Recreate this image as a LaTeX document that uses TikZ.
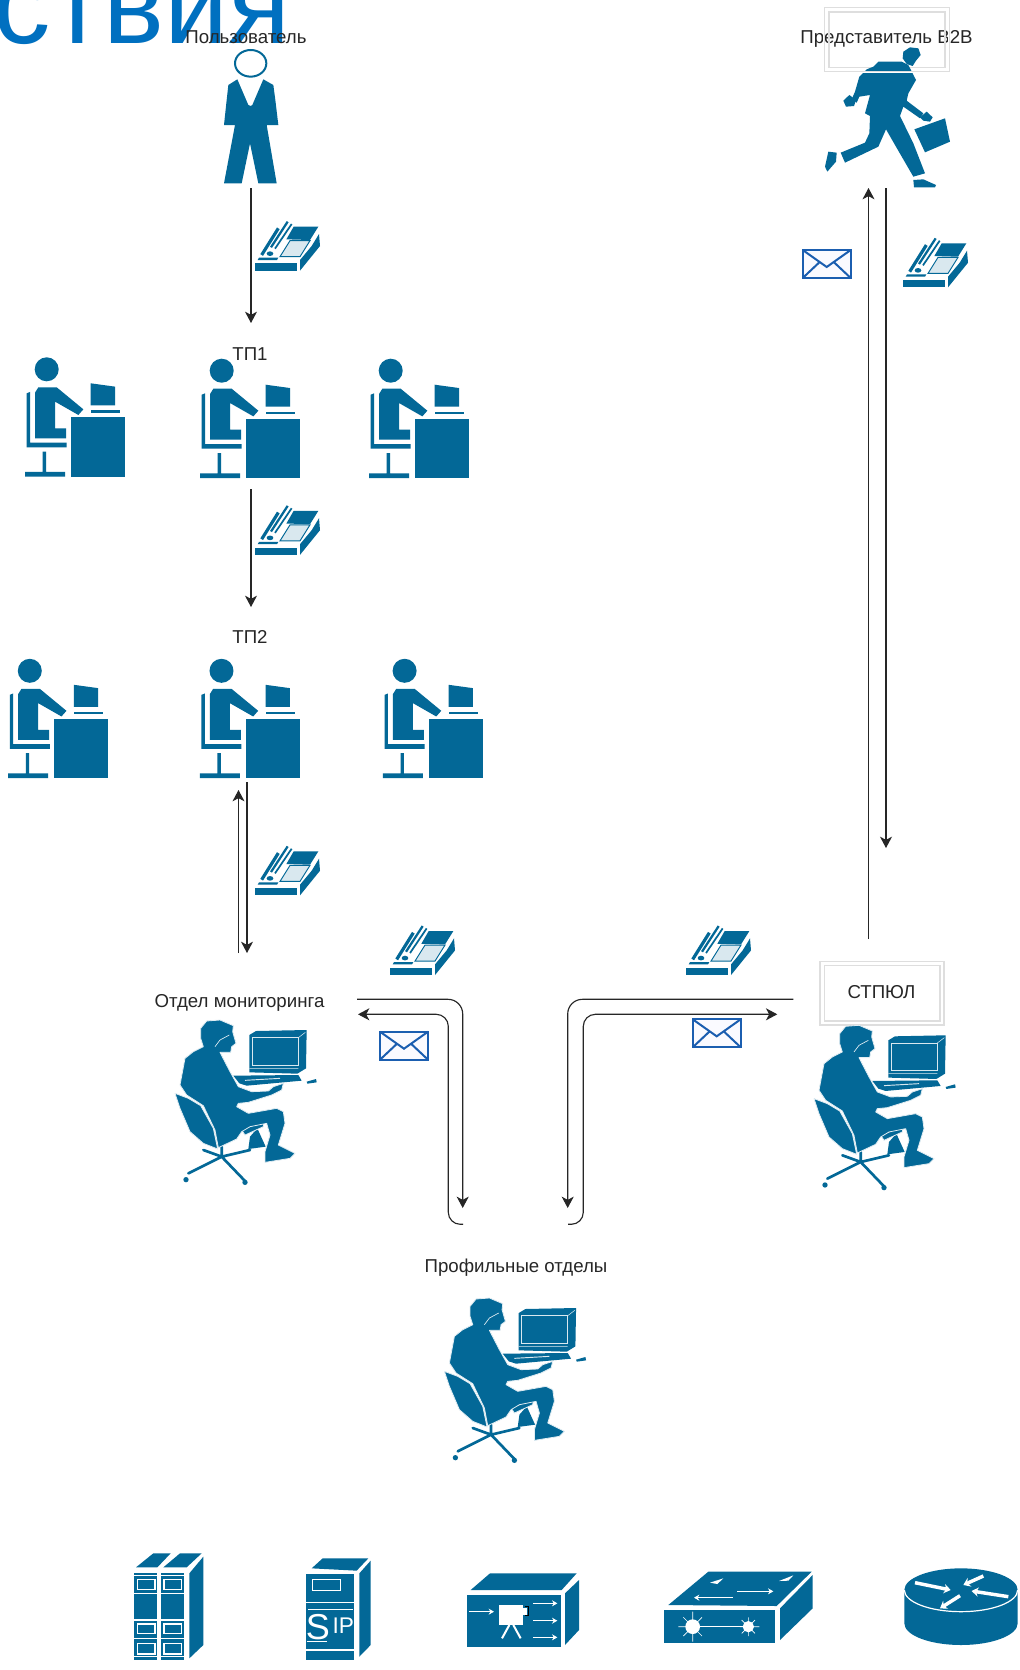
\documentclass[tikz,border=0pt]{standalone}
\usepackage{fontspec}
\setmainfont{Liberation Sans}
\usetikzlibrary{arrows.meta}
\definecolor{iconblue}{HTML}{036897}
\definecolor{titleblue}{HTML}{0070C0}
\definecolor{envblue}{HTML}{1B5EB0}
\definecolor{boxgray}{HTML}{DEDEDE}
\definecolor{labelgray}{HTML}{262626}
\tikzset{
  ico/.style={fill=iconblue,draw=white!88!iconblue,line width=.6pt,line join=round},
  wl/.style={draw=white,line width=.9pt},
  wa/.style={draw=white,line width=.9pt,-{Stealth[length=4pt,width=4.5pt]}},
  conn/.style={draw=black!85,line width=.85pt,-{Stealth[length=8.5pt,width=9pt,inset=2.4pt]}},
  lbl/.style={font=\fontsize{14pt}{16pt}\selectfont,text=labelgray,inner sep=0pt},
  boxo/.style={draw=white,line width=1.6pt},
  boxi/.style={draw=boxgray,line width=.8pt},
}
\newcommand{\workericon}[2]{%
\begin{scope}[shift={(#1-46.67,#2-369.33)},x=.25pt,y=-.25pt]
  \fill[iconblue] (140,1108) circle (36);
  \fill[iconblue] (105,1178) -- (115,1162) -- (170,1162) -- (250,1228) -- (235,1245) -- (165,1205) -- (165,1285) -- (198,1285) -- (198,1315) -- (105,1315) -- cycle;
  \fill[iconblue] (80,1180) -- (90,1176) -- (90,1328) -- (200,1328) -- (200,1342) -- (80,1342) -- cycle;
  \fill[iconblue] (128,1355) -- (138,1355) -- (138,1416) -- (195,1416) -- (195,1430) -- (75,1430) -- (75,1416) -- (128,1416) -- cycle;
  \fill[iconblue] (213,1252) rectangle (375,1430);
  \fill[iconblue] (272,1150) -- (345,1160) -- (345,1216) -- (272,1216) -- cycle;
  \fill[iconblue] (272,1231) rectangle (360,1238);
\end{scope}}
\newcommand{\phoneicon}[2]{%
\begin{scope}[shift={(#1-10,#2-8.3)},x=.25pt,y=-.25pt]
  \fill[iconblue] (30,160) -- (155,160) -- (155,182) -- (30,182) -- cycle;
  \fill[iconblue] (165,182) -- (225,108) -- (222,72) -- (200,108) -- (165,150) -- cycle;
  \fill[iconblue] (146,50) -- (220,50) -- (195,90) -- (124,88) -- cycle;
  \draw[iconblue,fill=iconblue!15,line width=.7pt] (105,140) -- (135,92) -- (195,92) -- (165,140) -- cycle;
  \draw[iconblue,line width=2.4pt] (50,135) -- (100,55);
  \draw[iconblue,line width=1.7pt] (78,112) -- (128,35);
  \draw[iconblue,line width=1.3pt] (90,116) -- (140,42);
  \fill[iconblue] (75,131) ellipse (10 and 7);
  \fill[iconblue] (42,143) -- (100,143) -- (96,150) -- (38,150) -- cycle;
\end{scope}}
\newcommand{\envicon}[2]{%
\begin{scope}[shift={(#1,#2)}]
  \draw[envblue,fill=blue!2,line width=1.7pt] (0,0) rectangle (48,28);
  \draw[envblue,line width=1.5pt] (0,0) -- (24,17) -- (48,0) (0,28) -- (17,12) (48,28) -- (31,12);
\end{scope}}
\newcommand{\seatedicon}[2]{%
\begin{scope}[shift={(#1+30,#2+35)},x=.25pt,y=-.25pt]
  % chair base
  \draw[iconblue,line width=2pt,line cap=round] (155,395) -- (155,425) (155,425) -- (55,475) (155,425) -- (225,498) (155,425) -- (100,405) (155,425) -- (240,405);
  \fill[iconblue] (48,494) circle (8) (225,502) circle (8);
  % far leg and seat
  \fill[iconblue] (262,340) -- (287,395) -- (235,402) -- (240,365) -- cycle;
  \path[ico] (215,345) -- (282,318) -- (280,335) -- (225,360) -- cycle;
  % chair back
  \path[ico] (15,235) -- (55,250) -- (92,272) -- (130,340) -- (143,402) -- (100,385) -- (60,350) -- (30,280) -- cycle;
  % body
  \path[ico] (92,40) -- (110,18) -- (150,15) -- (190,32) -- (188,50) -- (198,85) -- (185,95) -- (182,112) -- (150,112) -- (180,170) -- (205,215) -- (245,230) -- (295,228) -- (310,215) -- (340,205) -- (335,225) -- (305,240) -- (235,262) -- (205,265) -- (200,275) -- (235,295) -- (320,280) -- (340,290) -- (345,325) -- (325,390) -- (375,415) -- (360,430) -- (285,442) -- (285,410) -- (300,360) -- (290,325) -- (240,335) -- (215,350) -- (200,372) -- (145,398) -- (135,345) -- (100,272) -- (50,240) -- (30,210) -- (45,130) -- (70,110) -- (100,95) -- (92,70) -- cycle;
  \draw[white!88!iconblue,line width=.5pt] (135,95) -- (150,75) -- (178,60);
  % monitor
  \fill[iconblue] (238,60) -- (258,48) -- (410,45) -- (408,160) -- (382,176) -- (238,172) -- cycle;
  \draw[white!85!iconblue,line width=.7pt] (246,68) rectangle (385,150);
  \draw[white!85!iconblue,line width=.4pt] (385,68) -- (406,52) (238,160) -- (385,160);
  % keyboard
  \fill[iconblue] (190,182) -- (385,180) -- (395,197) -- (340,202) -- (230,212) -- (208,205) -- cycle;
  \draw[white!85!iconblue,line width=.7pt] (225,196) -- (330,190);
  \fill[iconblue] (410,200) -- (438,192) -- (440,202) -- (412,206) -- cycle;
\end{scope}}
\begin{document}
\begin{tikzpicture}[x=0.75pt,y=-0.75pt]
\useasboundingbox (0,0) rectangle (1020,1670);
\clip (0,0) rectangle (1020,1670);
\fill[white] (0,0) rectangle (1020,1670);

% title fragment
\node[anchor=base east,inner sep=0pt,text=titleblue,font=\fontsize{86pt}{90pt}\selectfont] (title) at (291,44) {ствия};

% labels
\node[lbl] (luser) at (246,37) {Пользователь};
\node[lbl] (ltp1) at (250,354) {ТП1};
\node[lbl] (ltp2) at (250,637) {ТП2};
\node[lbl] (lmon) at (239.5,1002.5) {Отдел мониторинга};
\node[lbl] (lb2b) at (886.5,38.5) {Представитель B2B};
\node[lbl] (lprof) at (516,1267.5) {Профильные отделы};
\node[lbl] (lstp) at (881.5,992.5) {СТПЮЛ};

% inner box under the runner
\draw[boxo] (829,12) rectangle (945,67.3);
\draw[boxi] (829,12) rectangle (945,67.3);

% standing user
\begin{scope}[x=.25pt,y=-.25pt]
  \draw[iconblue,fill=white,line width=1.5pt] (752,190) ellipse (47 and 40);
  \fill[iconblue] (712,238) -- (745,315) -- (752,318) -- (757,315) -- (790,238) -- (820,255) -- (826,300) -- (835,375) -- (800,375) -- (830,550) -- (775,550) -- (750,430) -- (725,550) -- (672,550) -- (705,375) -- (672,375) -- (680,300) -- (685,255) -- cycle;
\end{scope}

% runner
\begin{scope}[shift={(810,30)},x=.25pt,y=-.25pt]
  \fill[iconblue] (280,65) -- (300,52) -- (325,55) -- (332,75) -- (318,92) -- (308,108) -- (290,102) -- (278,85) -- cycle;
  \fill[iconblue] (190,110) -- (205,95) -- (275,95) -- (295,105) -- (318,150) -- (295,190) -- (290,212) -- (340,250) -- (330,265) -- (280,230) -- (270,258) -- (310,340) -- (345,430) -- (310,440) -- (255,345) -- (228,298) -- (205,350) -- (105,398) -- (92,368) -- (165,338) -- (178,310) -- (180,258) -- (165,250) -- (180,195) -- (148,200) -- (140,218) -- (125,208) -- (135,185) -- (148,140) -- (170,118) -- cycle;
  \fill[iconblue] (100,212) -- (118,195) -- (138,210) -- (132,228) -- (108,230) -- cycle;
  \fill[iconblue] (330,262) -- (350,245) -- (368,262) -- (360,275) -- (340,272) -- cycle;
  \fill[iconblue] (313,298) -- (405,265) -- (420,335) -- (345,367) -- cycle;
  \fill[iconblue] (55,365) -- (80,368) -- (78,395) -- (52,425) -- (45,410) -- cycle;
  \fill[iconblue] (310,450) -- (340,448) -- (378,465) -- (375,472) -- (312,472) -- cycle;
\end{scope}

% outer box over the runner
\draw[boxo] (824.3,7.3) rectangle (949.3,71.7);
\draw[boxi] (824.3,7.3) rectangle (949.3,71.7);
\draw[boxi] (820,961.7) rectangle (944,1025);
\draw[boxi] (824.3,965.7) rectangle (940,1021);

% workers
\workericon{46.7}{369.3}
\workericon{221.7}{370.7}
\workericon{390.7}{370.7}
\workericon{29.8}{670.8}
\workericon{221.5}{670.8}
\workericon{404.6}{670.8}

% seated
\seatedicon{140}{980}
\seatedicon{779}{985.3}
\seatedicon{409.4}{1258}

% phones
\phoneicon{255}{218.3}
\phoneicon{255}{502.5}
\phoneicon{903}{235}
\phoneicon{255}{843}
\phoneicon{390}{922.7}
\phoneicon{686}{922.7}

% envelopes
\envicon{802.7}{250}
\envicon{380}{1031.7}
\envicon{692.7}{1019.3}

% connector ends
\coordinate (userout) at (251,188);
\coordinate (tpin) at (251,323);
\coordinate (tpout) at (251,489);
\coordinate (tpbin) at (251,607);
\coordinate (tpbup) at (238.5,790);
\coordinate (monup) at (238.5,953);
\coordinate (tpbdown) at (247,782);
\coordinate (mondown) at (247,953);
\coordinate (stpup) at (868.5,939);
\coordinate (b2bin) at (868.5,188);
\coordinate (b2bout) at (886,188);
\coordinate (stpdown) at (886,848);
\coordinate (monout) at (357,999.3);
\coordinate (monin) at (358,1014.3);
\coordinate (profina) at (462.7,1208);
\coordinate (profouta) at (463,1224.3);
\coordinate (profinb) at (567.7,1208);
\coordinate (profoutb) at (568,1224.3);
\coordinate (stpout) at (793.3,999.3);
\coordinate (stpin) at (777.3,1014.3);

% connectors
\draw[conn] (userout) -- (tpin);
\draw[conn] (tpout) -- (tpbin);
\draw[conn] (monup) -- (tpbup);
\draw[conn] (tpbdown) -- (mondown);
\draw[conn] (stpup) -- (b2bin);
\draw[conn] (b2bout) -- (stpdown);
\draw[conn,rounded corners=11pt] (monout) -| (profina);
\draw[conn,rounded corners=9pt] (profouta) -- (448.3,1224.3) -- (448.3,1014.3) -- (monin);
\draw[conn,rounded corners=11pt] (stpout) -| (profinb);
\draw[conn,rounded corners=9pt] (profoutb) -- (583.3,1224.3) -- (583.3,1014.3) -- (stpin);

% rack
\begin{scope}[shift={(100,1530)},x=.25pt,y=-.25pt]
  \fill[iconblue] (108,112) -- (160,70) -- (212,70) -- (172,112) -- cycle;
  \fill[iconblue] (190,112) -- (240,70) -- (305,70) -- (260,112) -- cycle;
  \fill[iconblue] (268,130) -- (310,80) -- (310,345) -- (268,385) -- cycle;
  \fill[iconblue] (103,128) rectangle (172,390);
  \fill[iconblue] (183,128) rectangle (252,390);
  \draw[wl] (112,148) rectangle (165,178) (192,148) rectangle (245,178);
  \draw[wl] (112,282) rectangle (165,310) (192,282) rectangle (245,310);
  \draw[wl] (112,340) rectangle (165,372) (192,340) rectangle (245,372);
  \draw[wl] (103,137) -- (172,137) (183,137) -- (252,137) (103,190) -- (172,190) (183,190) -- (252,190) (103,270) -- (172,270) (183,270) -- (252,270) (103,325) -- (172,325) (183,325) -- (252,325) (103,380) -- (172,380) (183,380) -- (252,380);
\end{scope}

% SIP box
\begin{scope}[shift={(100,1530)},x=.25pt,y=-.25pt]
  \fill[iconblue] (635,115) -- (668,85) -- (805,85) -- (770,122) -- cycle;
  \fill[iconblue] (778,130) -- (812,92) -- (812,345) -- (778,380) -- cycle;
  \fill[iconblue] (618,133) rectangle (762,390);
  \draw[wl] (638,148) rectangle (722,182);
  \draw[wl] (618,218) -- (762,218) (618,360) -- (762,360);
  \node[inner sep=0pt,text=white,font=\fontsize{27pt}{27pt}\selectfont] (sips) at (654,292) {S};
  \node[inner sep=0pt,text=white,font=\fontsize{17pt}{17pt}\selectfont] (sipip) at (730,287) {IP};
  \draw[white,line width=.5pt] (625,238) -- (758,238) (620,335) -- (680,335);
\end{scope}

% video box
\begin{scope}[shift={(100,1530)},x=.25pt,y=-.25pt]
  \fill[iconblue] (1112,180) -- (1170,130) -- (1430,130) -- (1385,180) -- cycle;
  \fill[iconblue] (1395,190) -- (1437,150) -- (1437,300) -- (1395,345) -- cycle;
  \fill[iconblue] (1102,195) rectangle (1382,352);
  \fill[white] (1197,225) rectangle (1270,285);
  \fill[white] (1270,235) rectangle (1280,255);
  \draw[black,line width=.6pt] (1276,230) -- (1286,230) -- (1286,256) -- (1276,256);
  \draw[white,line width=1.5pt] (1228,285) -- (1206,325) (1240,285) -- (1262,325);
  \draw[wa] (1108,245) -- (1182,245);
  \draw[wa] (1300,220) -- (1372,220);
  \draw[wa] (1300,272) -- (1372,272);
  \draw[wa] (1300,322) -- (1372,322);
\end{scope}

% switch
\begin{scope}[shift={(580,1530)},x=.25pt,y=-.25pt]
  \fill[iconblue] (265,225) -- (385,125) -- (695,125) -- (590,228) -- cycle;
  \fill[iconblue] (600,235) -- (698,135) -- (698,235) -- (600,330) -- cycle;
  \fill[iconblue] (252,240) rectangle (585,340);
  \fill[white] (338,290) circle (22) (505,290) circle (17);
  \draw[white,line width=.9pt] (338,290) -- (505,290);
  \draw[white,line width=.5pt] (338,245) -- (338,335) (295,290) -- (338,290) (310,262) -- (366,318) (310,318) -- (366,262) (505,262) -- (505,318) (480,290) -- (538,290) (485,270) -- (525,310) (485,310) -- (525,270);
  \fill[white] (390,158) -- (430,145) -- (412,162) -- cycle;
  \fill[white] (597,153) -- (640,136) -- (625,152) -- cycle;
  \draw[wa] (472,184) -- (580,184);
  \draw[wa] (458,203) -- (342,203);
\end{scope}

% router
\begin{scope}[shift={(580,1530)},x=.25pt,y=-.25pt]
  \fill[iconblue] (973,180) -- (973,280) arc[start angle=180,end angle=0,x radius=170,y radius=65] -- (1313,180) -- cycle;
  \fill[iconblue] (1143,180) ellipse (170 and 65);
  \draw[white,line width=.9pt] (973,180) arc[start angle=180,end angle=0,x radius=170,y radius=65];
  \draw[white,line width=2.6pt,-{Stealth[length=5pt,width=7pt]}] (1005,158) -- (1112,180);
  \draw[white,line width=2.6pt,-{Stealth[length=5pt,width=7pt]}] (1210,138) -- (1150,165);
  \draw[white,line width=2.6pt,-{Stealth[length=5pt,width=7pt]}] (1285,200) -- (1175,183);
  \draw[white,line width=2.6pt,-{Stealth[length=5pt,width=7pt]}] (1140,197) -- (1080,235);
\end{scope}
\end{tikzpicture}
\end{document}
